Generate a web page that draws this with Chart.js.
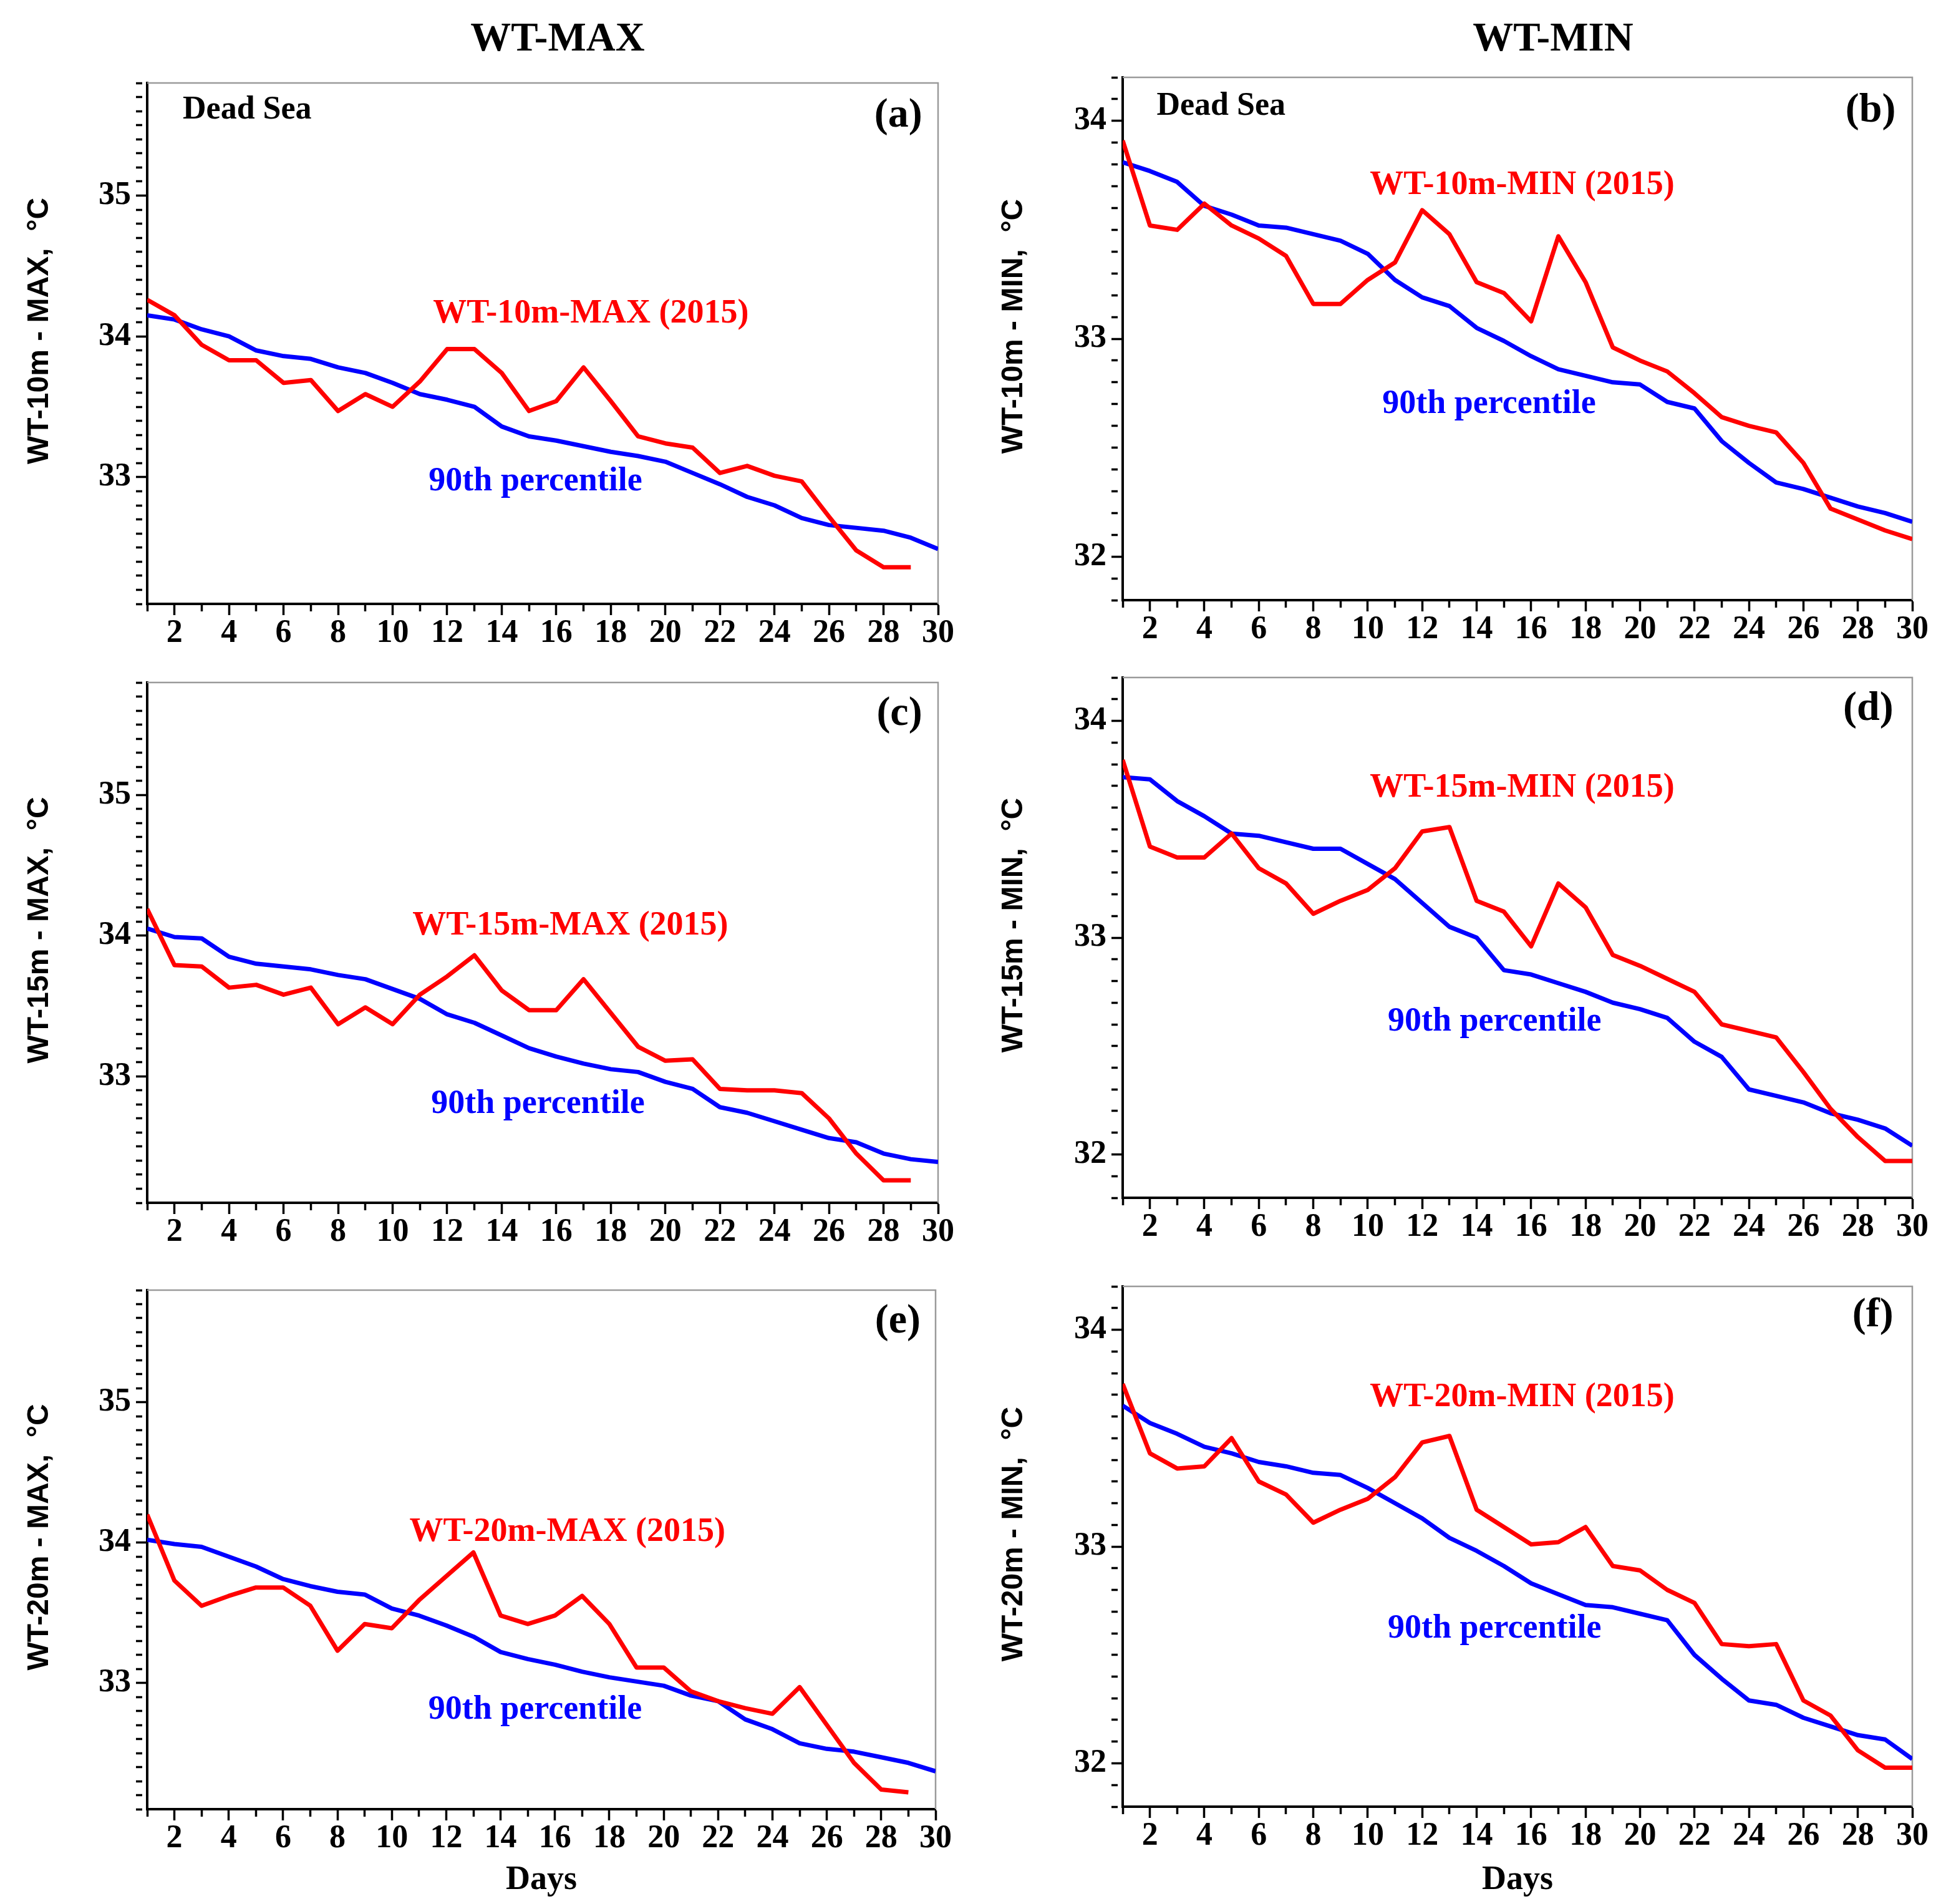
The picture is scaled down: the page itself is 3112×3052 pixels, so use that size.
<!DOCTYPE html>
<html>
<head>
<meta charset="utf-8">
<script src="https://cdn.jsdelivr.net/npm/chart.js@4.4.1/dist/chart.umd.min.js"></script>
<style>
  html, body { margin: 0; padding: 0; background: #fff; }
  body { width: 3112px; height: 3052px; position: relative; overflow: hidden; }
  canvas { position: absolute; }
</style>
</head>
<body>
<canvas id="pa"></canvas>
<canvas id="pb"></canvas>
<canvas id="pc"></canvas>
<canvas id="pd"></canvas>
<canvas id="pe"></canvas>
<canvas id="pf"></canvas>
<script>
const DAYS = [1,2,3,4,5,6,7,8,9,10,11,12,13,14,15,16,17,18,19,20,21,22,23,24,25,26,27,28,29,30];
const X_LABELS = [2,4,6,8,10,12,14,16,18,20,22,24,26,28,30];
const Y_LABELS_MAX = [33,34,35];
const Y_LABELS_MIN = [32,33,34];

// 2015 series (red) and 90th percentile (blue), °C
const MAX10_2015 = [34.26,34.15,33.94,33.83,33.83,33.67,33.69,33.47,33.59,33.50,33.68,33.91,33.91,33.74,33.47,33.54,33.78,33.54,33.29,33.24,33.21,33.03,33.08,33.01,32.97,32.72,32.48,32.36,32.36];
const MAX10_P90  = [34.15,34.12,34.05,34.00,33.90,33.86,33.84,33.78,33.74,33.67,33.59,33.55,33.50,33.36,33.29,33.26,33.22,33.18,33.15,33.11,33.03,32.95,32.86,32.80,32.71,32.66,32.64,32.62,32.57,32.49];
const MIN10_2015 = [33.91,33.52,33.50,33.62,33.52,33.46,33.38,33.16,33.16,33.27,33.35,33.59,33.48,33.26,33.21,33.08,33.47,33.26,32.96,32.90,32.85,32.75,32.64,32.60,32.57,32.43,32.22,32.17,32.12,32.08];
const MIN10_P90  = [33.81,33.77,33.72,33.61,33.57,33.52,33.51,33.48,33.45,33.39,33.27,33.19,33.15,33.05,32.99,32.92,32.86,32.83,32.80,32.79,32.71,32.68,32.53,32.43,32.34,32.31,32.27,32.23,32.20,32.16];
const MAX15_2015 = [34.19,33.79,33.78,33.63,33.65,33.58,33.63,33.37,33.49,33.37,33.58,33.71,33.86,33.61,33.47,33.47,33.69,33.45,33.21,33.11,33.12,32.91,32.90,32.90,32.88,32.70,32.45,32.26,32.26];
const MAX15_P90  = [34.05,33.99,33.98,33.85,33.80,33.78,33.76,33.72,33.69,33.62,33.55,33.44,33.38,33.29,33.20,33.14,33.09,33.05,33.03,32.96,32.91,32.78,32.74,32.68,32.62,32.56,32.53,32.45,32.41,32.39];
const MIN15_2015 = [33.82,33.42,33.37,33.37,33.48,33.32,33.25,33.11,33.17,33.22,33.32,33.49,33.51,33.17,33.12,32.96,33.25,33.14,32.92,32.87,32.81,32.75,32.60,32.57,32.54,32.38,32.21,32.08,31.97,31.97];
const MIN15_P90  = [33.74,33.73,33.63,33.56,33.48,33.47,33.44,33.41,33.41,33.34,33.27,33.16,33.05,33.00,32.85,32.83,32.79,32.75,32.70,32.67,32.63,32.52,32.45,32.30,32.27,32.24,32.19,32.16,32.12,32.04];
const MAX20_2015 = [34.20,33.73,33.55,33.62,33.68,33.68,33.55,33.23,33.42,33.39,33.59,33.76,33.93,33.48,33.42,33.48,33.62,33.42,33.11,33.11,32.94,32.87,32.82,32.78,32.97,32.70,32.43,32.24,32.22];
const MAX20_P90  = [34.02,33.99,33.97,33.90,33.83,33.74,33.69,33.65,33.63,33.53,33.48,33.41,33.33,33.22,33.17,33.13,33.08,33.04,33.01,32.98,32.91,32.87,32.74,32.67,32.57,32.53,32.51,32.47,32.43,32.37];
const MIN20_2015 = [33.75,33.43,33.36,33.37,33.50,33.30,33.24,33.11,33.17,33.22,33.32,33.48,33.51,33.17,33.09,33.01,33.02,33.09,32.91,32.89,32.80,32.74,32.55,32.54,32.55,32.29,32.22,32.06,31.98,31.98];
const MIN20_P90  = [33.65,33.57,33.52,33.46,33.43,33.39,33.37,33.34,33.33,33.27,33.20,33.13,33.04,32.98,32.91,32.83,32.78,32.73,32.72,32.69,32.66,32.50,32.39,32.29,32.27,32.21,32.17,32.13,32.11,32.02];

const SERIF = "'Liberation Serif', 'Times New Roman', serif";
const SANS = "'Liberation Sans', Arial, sans-serif";
const RED = '#ff0000';
const BLUE = '#0000ff';

Chart.defaults.color = '#000';
Chart.defaults.font.family = SERIF;

// grey frame on top/right, plus text notes
const panelDecor = {
  id: 'panelDecor',
  beforeDatasetsDraw(chart) {
    const {ctx, chartArea: a} = chart;
    ctx.save();
    ctx.strokeStyle = '#9a9a9a';
    ctx.lineWidth = 2.5;
    ctx.beginPath();
    ctx.moveTo(a.left, a.top);
    ctx.lineTo(a.right, a.top);
    ctx.lineTo(a.right, a.bottom);
    ctx.stroke();
    ctx.restore();
  },
  afterDatasetsDraw(chart, args, opts) {
    const {ctx, chartArea: a} = chart;
    ctx.save();
    ctx.textBaseline = 'middle';
    (opts.notes || []).forEach(n => {
      ctx.font = 'bold ' + n.size + 'px ' + SERIF;
      ctx.fillStyle = n.color || '#000';
      ctx.textAlign = n.align || 'center';
      ctx.fillText(n.text, a.left + n.fx * a.width, a.top + n.fy * a.height);
    });
    if (opts.heading) {
      ctx.font = 'bold 65px ' + SERIF;
      ctx.fillStyle = '#000';
      ctx.textAlign = 'center';
      ctx.fillText(opts.heading.text, opts.heading.x, opts.heading.y);
    }
    ctx.restore();
  }
};

function yTicks(min, max) {
  const out = [];
  for (let v = Math.round(min * 10); v <= Math.round(max * 10); v++) out.push({value: v / 10});
  return out;
}

function makePanel(p) {
  const el = document.getElementById(p.id);
  el.width = p.box.w; el.height = p.box.h;
  el.style.left = p.box.x + 'px'; el.style.top = p.box.y + 'px';
  el.style.width = p.box.w + 'px'; el.style.height = p.box.h + 'px';
  const isMajorY = v => p.yLabels.includes(Math.round(v * 10) / 10);
  new Chart(el, {
    type: 'line',
    data: {
      labels: DAYS,
      datasets: [
        { data: p.red, borderColor: RED, borderWidth: 7, pointRadius: 0, tension: 0, borderJoinStyle: 'round' },
        { data: p.blue, borderColor: BLUE, borderWidth: 7, pointRadius: 0, tension: 0, borderJoinStyle: 'round' }
      ]
    },
    options: {
      responsive: false,
      animation: false,
      devicePixelRatio: 1,
      layout: { padding: { left: 0, top: p.padTop, right: p.padRight, bottom: 0 } },
      plugins: {
        legend: { display: false },
        tooltip: { enabled: false },
        panelDecor: { notes: p.notes, heading: p.heading }
      },
      scales: {
        x: {
          type: 'linear',
          min: 1, max: 30,
          afterBuildTicks: s => { s.ticks = DAYS.map(v => ({value: v})); },
          afterFit: s => { s.height = p.xAxisH; },
          border: { display: true, color: '#000', width: 4 },
          grid: {
            display: true, drawOnChartArea: false, drawTicks: true,
            tickLength: 18, tickWidth: 3.5, tickColor: '#000',
            tickBorderDash: c => (c.tick && X_LABELS.includes(c.tick.value)) ? [] : [10, 40]
          },
          ticks: {
            autoSkip: false, maxRotation: 0, minRotation: 0, padding: -2,
            font: { size: 52, weight: 'bold', family: SERIF },
            callback: v => X_LABELS.includes(v) ? String(v) : ''
          },
          title: {
            display: !!p.xTitle, text: p.xTitle || '',
            font: { size: 54, weight: 'bold', family: SERIF, lineHeight: 1 },
            padding: { top: 0, bottom: 11 }
          }
        },
        y: {
          type: 'linear',
          min: p.yMin, max: p.yMax,
          afterBuildTicks: s => { s.ticks = yTicks(p.yMin, p.yMax); },
          afterFit: s => { s.width = p.axisW; },
          border: { display: true, color: '#000', width: 4 },
          grid: {
            display: true, drawOnChartArea: false, drawTicks: true,
            tickLength: 18, tickWidth: 3.5, tickColor: '#000',
            tickBorderDash: c => (c.tick && isMajorY(c.tick.value)) ? [] : [10, 40]
          },
          ticks: {
            autoSkip: false, padding: 8,
            font: { size: 52, weight: 'bold', family: SERIF },
            callback: v => isMajorY(v) ? String(Math.round(v)) : ''
          },
          title: {
            display: true, text: '   ' + p.yTitle,
            font: { size: 48, weight: 'bold', family: SANS, lineHeight: 1 },
            padding: { top: p.yTitlePad, bottom: 0 }
          }
        }
      }
    },
    plugins: [panelDecor]
  });
}

const LEFT = { x: 0, w: 1540 };
const RIGHT = { x: 1556, w: 1556 };

const panels = [
  { id: 'pa', box: { x: LEFT.x, y: 0, w: LEFT.w, h: 1040 }, axisW: 236, padRight: 36, padTop: 133, xAxisH: 72,
    yMin: 32.1, yMax: 35.8, yLabels: Y_LABELS_MAX, yTitle: 'WT-10m - MAX,  °C', yTitlePad: 40,
    red: MAX10_2015, blue: MAX10_P90,
    heading: { text: 'WT-MAX', x: 894, y: 64 },
    notes: [
      { text: 'Dead Sea', fx: 0.045, fy: 0.052, align: 'left', size: 52 },
      { text: '(a)', fx: 0.98, fy: 0.063, align: 'right', size: 66 },
      { text: 'WT-10m-MAX (2015)', fx: 0.561, fy: 0.443, size: 54, color: RED },
      { text: '90th percentile', fx: 0.491, fy: 0.765, size: 54, color: BLUE }
    ] },
  { id: 'pb', box: { x: RIGHT.x, y: 0, w: RIGHT.w, h: 1040 }, axisW: 244, padRight: 46, padTop: 124, xAxisH: 78,
    yMin: 31.8, yMax: 34.2, yLabels: Y_LABELS_MIN, yTitle: 'WT-10m - MIN,  °C', yTitlePad: 46,
    red: MIN10_2015, blue: MIN10_P90,
    heading: { text: 'WT-MIN', x: 934, y: 64 },
    notes: [
      { text: 'Dead Sea', fx: 0.043, fy: 0.055, align: 'left', size: 52 },
      { text: '(b)', fx: 0.979, fy: 0.064, align: 'right', size: 66 },
      { text: 'WT-10m-MIN (2015)', fx: 0.506, fy: 0.206, size: 54, color: RED },
      { text: '90th percentile', fx: 0.464, fy: 0.625, size: 54, color: BLUE }
    ] },
  { id: 'pc', box: { x: LEFT.x, y: 1040, w: LEFT.w, h: 975 }, axisW: 236, padRight: 36, padTop: 54, xAxisH: 87,
    yMin: 32.1, yMax: 35.8, yLabels: Y_LABELS_MAX, yTitle: 'WT-15m - MAX,  °C', yTitlePad: 40,
    red: MAX15_2015, blue: MAX15_P90,
    notes: [
      { text: '(c)', fx: 0.98, fy: 0.061, align: 'right', size: 66 },
      { text: 'WT-15m-MAX (2015)', fx: 0.535, fy: 0.468, size: 54, color: RED },
      { text: '90th percentile', fx: 0.494, fy: 0.811, size: 54, color: BLUE }
    ] },
  { id: 'pd', box: { x: RIGHT.x, y: 1040, w: RIGHT.w, h: 975 }, axisW: 244, padRight: 46, padTop: 46, xAxisH: 95,
    yMin: 31.8, yMax: 34.2, yLabels: Y_LABELS_MIN, yTitle: 'WT-15m - MIN,  °C', yTitlePad: 46,
    red: MIN15_2015, blue: MIN15_P90,
    notes: [
      { text: '(d)', fx: 0.976, fy: 0.061, align: 'right', size: 66 },
      { text: 'WT-15m-MIN (2015)', fx: 0.506, fy: 0.212, size: 54, color: RED },
      { text: '90th percentile', fx: 0.471, fy: 0.662, size: 54, color: BLUE }
    ] },
  { id: 'pe', box: { x: LEFT.x, y: 2015, w: LEFT.w, h: 1037 }, axisW: 236, padRight: 40, padTop: 53, xAxisH: 152,
    yMin: 32.1, yMax: 35.8, yLabels: Y_LABELS_MAX, yTitle: 'WT-20m - MAX,  °C', yTitlePad: 40, xTitle: 'Days',
    red: MAX20_2015, blue: MAX20_P90,
    notes: [
      { text: '(e)', fx: 0.981, fy: 0.061, align: 'right', size: 66 },
      { text: 'WT-20m-MAX (2015)', fx: 0.533, fy: 0.466, size: 54, color: RED },
      { text: '90th percentile', fx: 0.492, fy: 0.809, size: 54, color: BLUE }
    ] },
  { id: 'pf', box: { x: RIGHT.x, y: 2015, w: RIGHT.w, h: 1037 }, axisW: 244, padRight: 46, padTop: 47, xAxisH: 156,
    yMin: 31.8, yMax: 34.2, yLabels: Y_LABELS_MIN, yTitle: 'WT-20m - MIN,  °C', yTitlePad: 46, xTitle: 'Days',
    red: MIN20_2015, blue: MIN20_P90,
    notes: [
      { text: '(f)', fx: 0.976, fy: 0.056, align: 'right', size: 66 },
      { text: 'WT-20m-MIN (2015)', fx: 0.506, fy: 0.213, size: 54, color: RED },
      { text: '90th percentile', fx: 0.471, fy: 0.658, size: 54, color: BLUE }
    ] }
];

panels.forEach(makePanel);
</script>
</body>
</html>
